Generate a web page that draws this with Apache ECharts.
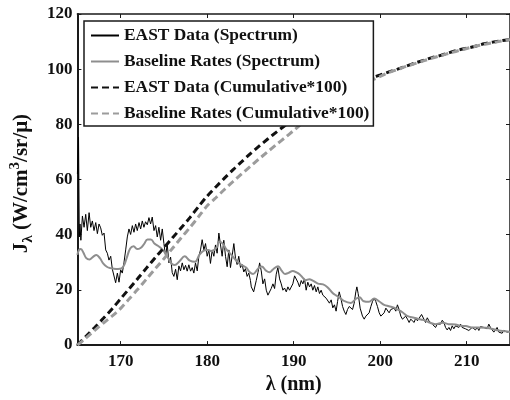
<!DOCTYPE html>
<html>
<head>
<meta charset="utf-8">
<script src="https://cdn.jsdelivr.net/npm/echarts@6/dist/echarts.min.js"></script>
<style>
  html, body { margin: 0; padding: 0; background: #fff; }
  #chart { width: 510px; height: 400px; }
</style>
</head>
<body>
<div id="chart"></div>
<script>
// Wavelength range (nm) and tick positions
const xRange = [165, 215];
const xTicks = [170, 180, 190, 200, 210];
const yRange = [0, 120];

const seriesNames = [
  'EAST Data (Spectrum)',
  'Baseline Rates (Spectrum)',
  'EAST Data (Cumulative*100)',
  'Baseline Rates (Cumulative*100)'
];

// [wavelength nm, J_lambda]
const eastSpectrum = [
  [165.00,62.0],[165.13,75.4],[165.22,39.2],[165.30,43.9],[165.40,38.0],[165.58,46.8],[165.77,42.7],[165.96,47.4],[166.15,41.5],
  [166.35,48.0],[166.54,42.7],[166.73,45.0],[166.92,41.5],[167.12,44.4],[167.31,40.4],[167.50,43.9],[167.69,42.5],
  [167.88,39.8],[168.08,40.6],[168.27,34.5],[168.46,33.3],[168.65,30.8],[168.85,32.2],[169.04,27.5],[169.23,26.9],
  [169.42,22.6],[169.62,26.1],[169.81,22.8],[170.00,27.3],[170.19,26.1],[170.38,29.8],[170.58,34.5],[170.77,39.2],
  [170.96,42.1],[171.15,40.1],[171.35,43.3],[171.54,40.9],[171.73,43.9],[171.92,41.5],[172.12,44.4],[172.31,42.1],
  [172.50,45.0],[172.69,42.7],[172.88,44.7],[173.08,43.6],[173.27,46.2],[173.46,43.9],[173.65,46.4],[173.85,41.5],
  [174.04,43.3],[174.23,39.2],[174.42,42.7],[174.62,38.0],[174.81,42.1],[175.00,36.8],[175.19,32.2],[175.38,36.6],
  [175.58,29.8],[175.77,31.9],[175.96,26.3],[176.15,24.9],[176.35,27.5],[176.54,23.7],[176.73,28.7],[176.92,26.9],
  [177.12,29.8],[177.31,27.3],[177.50,28.9],[177.69,26.8],[177.88,29.1],[178.08,26.8],[178.27,28.1],[178.46,26.1],
  [178.65,29.8],[178.85,26.9],[179.04,32.2],[179.23,34.5],[179.42,38.2],[179.62,34.5],[179.81,36.8],[180.00,32.2],
  [180.19,34.5],[180.38,29.6],[180.58,34.5],[180.77,32.2],[180.96,36.3],[181.15,33.3],[181.35,40.6],[181.54,36.3],
  [181.73,32.2],[181.92,38.0],[182.12,32.2],[182.31,28.4],[182.50,34.5],[182.69,28.1],[182.88,32.2],[183.08,36.8],
  [183.27,31.6],[183.46,29.2],[183.65,32.2],[183.85,28.1],[184.04,29.2],[184.23,26.5],[184.42,27.7],[184.62,24.9],
  [184.81,26.1],[185.00,23.4],[185.10,21.1],[185.37,19.3],[185.67,23.4],[185.87,26.3],[186.06,29.8],[186.25,26.9],
  [186.44,22.2],[186.64,24.0],[186.83,19.9],[187.02,18.1],[187.21,17.5],[187.40,20.5],[187.60,22.2],[187.79,20.5],
  [187.98,25.7],[188.17,28.1],[188.37,24.0],[188.56,22.2],[188.75,19.9],[188.94,20.7],[189.14,19.3],[189.33,21.1],
  [189.52,19.9],[189.71,19.3],[189.90,22.2],[190.10,25.1],[190.29,25.7],[190.48,22.8],[190.67,21.1],[190.87,23.4],
  [191.06,22.2],[191.25,24.0],[191.44,19.9],[191.63,22.8],[191.83,21.1],[192.02,22.2],[192.21,19.9],[192.40,21.6],
  [192.60,19.3],[192.79,21.1],[192.98,18.7],[193.17,19.9],[193.37,18.1],[193.56,18.7],[193.75,17.0],[193.94,17.5],
  [194.13,15.2],[194.33,16.4],[194.52,13.5],[194.71,14.6],[194.90,12.3],[195.07,15.8],[195.26,19.3],[195.45,17.0],
  [195.65,14.0],[195.84,12.3],[196.03,11.1],[196.22,12.9],[196.42,14.0],[196.61,13.4],[196.80,12.9],[196.99,15.2],
  [197.18,19.3],[197.30,21.1],[197.45,18.7],[197.68,13.4],[197.95,10.5],[198.15,9.4],[198.34,10.5],[198.53,9.9],
  [198.72,11.7],[198.92,14.0],[199.11,15.8],[199.30,17.0],[199.49,15.8],[199.68,14.0],[199.88,11.7],[200.07,10.5],
  [200.26,9.9],[200.45,11.7],[200.65,13.4],[200.84,12.9],[201.03,11.7],[201.22,12.9],[201.42,12.3],[201.61,13.4],
  [201.80,12.3],[201.99,14.6],[202.18,12.9],[202.38,10.5],[202.57,9.4],[202.76,8.8],[202.95,10.5],[203.15,9.4],
  [203.34,8.2],[203.53,9.4],[203.72,8.8],[203.92,8.2],[204.11,9.9],[204.30,8.8],[204.49,9.4],[204.78,11.1],
  [205.05,9.4],[205.24,8.2],[205.44,9.9],[205.63,8.8],[205.82,8.2],[206.01,7.6],[206.21,7.0],[206.40,6.4],
  [206.59,7.6],[206.78,8.2],[206.97,7.6],[207.17,9.0],[207.36,8.2],[207.55,6.4],[207.74,5.5],[207.94,6.4],
  [208.13,5.3],[208.32,7.0],[208.51,5.9],[208.71,7.0],[208.90,7.6],[209.09,6.4],[209.28,7.6],[209.47,6.4],
  [209.67,7.0],[209.86,5.9],[210.05,6.4],[210.24,5.3],[210.44,4.7],[210.63,6.4],[210.82,7.0],[211.01,5.5],
  [211.21,6.4],[211.40,5.3],[211.59,6.7],[211.78,7.3],[211.97,6.4],[212.17,6.7],[212.36,5.9],[212.55,7.6],
  [212.74,6.4],[212.94,5.9],[213.13,4.7],[213.32,5.3],[213.51,6.4],[213.71,4.7],[213.90,5.3],[214.09,4.3],
  [214.28,5.3],[214.48,5.5],[214.67,4.7],[215.00,5.0]
];

const baselineSpectrum = [
  [165.0,32.7],[165.18,34.5],[165.4,34.8],[165.7,33.5],[166.0,31.6],[166.4,31.0],[166.8,32.0],[167.2,32.7],
  [167.6,31.5],[168.0,29.5],[168.4,28.4],[168.8,27.9],[169.2,27.7],[169.7,27.6],[170.1,27.8],[170.4,29.0],
  [170.7,31.6],[171.1,35.0],[171.5,35.8],[171.9,34.8],[172.3,35.2],[172.7,36.6],[173.1,38.3],[173.5,38.3],
  [173.9,36.8],[174.3,36.0],[174.7,35.0],[175.1,33.6],[175.5,31.5],[175.9,29.5],[176.25,29.0],[176.8,30.4],
  [177.4,32.2],[178.0,30.6],[178.6,30.2],[179.1,32.7],[179.6,34.2],[180.1,34.5],[180.5,34.0],[181.1,35.4],
  [181.4,37.5],[181.8,36.8],[182.2,34.8],[182.8,32.7],[183.4,30.5],[183.9,29.2],[184.5,28.1],[184.9,26.5],
  [185.3,25.8],[185.9,27.8],[186.3,28.5],[186.8,27.0],[187.2,26.4],[187.6,27.4],[188.2,28.6],[188.6,27.0],
  [189.0,25.8],[189.4,26.2],[189.9,26.9],[190.3,26.4],[190.7,25.6],[191.1,24.2],[191.4,23.5],[191.8,23.9],
  [192.2,23.4],[192.8,22.3],[193.4,22.0],[193.9,21.0],[194.5,18.9],[194.9,18.0],[195.4,17.0],[195.8,16.0],
  [196.6,15.3],[197.2,16.8],[197.6,17.3],[198.1,15.9],[198.7,15.7],[199.3,16.9],[199.9,15.8],[200.45,14.6],
  [201.0,14.1],[201.6,13.6],[202.0,12.9],[202.6,11.8],[203.1,10.6],[203.9,9.9],[204.7,9.3],[205.2,8.9],
  [205.6,8.3],[206.4,7.6],[207.2,8.1],[207.9,7.6],[208.7,7.5],[209.3,7.0],[209.9,6.9],[210.6,6.4],
  [211.4,6.4],[212.2,6.3],[213.0,5.8],[213.7,5.3],[214.5,5.0],[215.0,4.7]
];

const eastCumulative = [
  [165,0],[166,3.2],[167,6.4],[168,9.7],[169,13.1],[170,16.8],[171,20.5],[172,24.2],[173,28.0],[174,31.7],
  [175,35.3],[176,38.9],[177,42.5],[178,46.2],[179,50.2],[180,54.0],[181,57.3],[182,60.5],[183,63.6],[184,66.5],
  [185,69.4],[186,72.1],[187,74.7],[188,77.2],[189,79.6],[190,82.0],[191,84.2],[192,86.4],[193,88.4],[194,90.4],
  [195,92.3],[196,93.8],[197,95.0],[198,96.0],[199,96.9],[200,97.9],[201,99.0],[202,100.0],[203,101.1],[204,102.2],
  [205,103.2],[206,104.2],[207,105.0],[208,106.0],[209,106.9],[210,107.6],[211,108.3],[212,109.2],[213,109.8],
  [214,110.3],[215,110.8]
];

const baselineCumulative = [
  [165,0],[166,2.6],[167,5.3],[168,8.0],[169,10.5],[170,13.3],[171,16.8],[172,20.3],[173,24.0],[174,27.7],
  [175,31.3],[176,35.1],[177,38.9],[178,42.6],[179,46.5],[180,50.5],[181,53.4],[182,56.4],[183,59.3],[184,62.1],
  [185,64.8],[186,67.5],[187,70.1],[188,72.7],[189,75.2],[190,77.8],[191,80.4],[192,82.9],[193,85.1],[194,87.3],
  [195,89.4],[196,91.3],[197,93.0],[198,94.6],[199,96.0],[200,97.4],[201,98.8],[202,99.9],[203,101.0],[204,102.0],
  [205,103.0],[206,104.0],[207,104.9],[208,105.8],[209,106.7],[210,107.5],[211,108.3],[212,109.0],[213,109.6],
  [214,110.2],[215,110.8]
];

const FONT = 'Liberation Serif';
const INK = '#1a1a1a';
const TEXT = '#111';

const chart = echarts.init(document.getElementById('chart'), null, { renderer: 'canvas' });

const tickStyle = { show: true, inside: true, length: 4, lineStyle: { color: INK, width: 1 } };
const tickFont = { fontFamily: FONT, fontWeight: 'bold', fontSize: 17, color: TEXT };

chart.setOption({
  animation: false,
  backgroundColor: '#fff',
  grid: { left: 76, right: 0, top: 14, bottom: 44, containLabel: false },
  legend: {
    orient: 'vertical',
    left: 84,
    top: 21,
    padding: [6, 4, 4, 6],
    itemWidth: 28,
    itemHeight: 16,
    itemGap: 9,
    backgroundColor: '#fff',
    borderColor: INK,
    borderWidth: 1.5,
    borderRadius: 0,
    // legend keys show only the line, no marker
    itemStyle: { color: 'rgba(0,0,0,0)', borderWidth: 0, opacity: 0 },
    textStyle: { fontFamily: FONT, fontWeight: 'bold', fontSize: 17.4, color: TEXT, lineHeight: 16 },
    data: seriesNames
  },
  xAxis: [
    {
      type: 'value', min: xRange[0], max: xRange[1],
      name: 'λ (nm)', nameLocation: 'middle', nameGap: 22,
      nameTextStyle: { fontFamily: FONT, fontWeight: 'bold', fontSize: 20, color: TEXT },
      axisLine: { show: true, lineStyle: { color: INK, width: 2 } },
      axisTick: Object.assign({}, tickStyle, { customValues: xTicks }),
      axisLabel: Object.assign({ customValues: xTicks, margin: 8 }, tickFont),
      splitLine: { show: false }
    },
    {
      type: 'value', position: 'top', min: xRange[0], max: xRange[1],
      axisLine: { show: true, onZero: false, lineStyle: { color: INK, width: 1.5 } },
      axisTick: Object.assign({}, tickStyle, { customValues: xTicks }),
      axisLabel: { show: false },
      splitLine: { show: false }
    }
  ],
  yAxis: [
    {
      type: 'value', min: yRange[0], max: yRange[1], interval: 20,
      name: '{a|J}{s|λ}{a| (W/cm}{p|3}{a|/sr/μ)}',
      nameLocation: 'middle', nameGap: 34, nameRotate: 90,
      nameTextStyle: {
        fontFamily: FONT, fontWeight: 'bold', fontSize: 20, color: TEXT,
        padding: [0, 8, 0, 0],
        rich: {
          a: { fontFamily: FONT, fontWeight: 'bold', fontSize: 21, color: TEXT, lineHeight: 28, verticalAlign: 'middle' },
          s: { fontFamily: FONT, fontWeight: 'bold', fontSize: 15, color: TEXT, lineHeight: 15, verticalAlign: 'bottom' },
          p: { fontFamily: FONT, fontWeight: 'bold', fontSize: 15, color: TEXT, lineHeight: 15, verticalAlign: 'top' }
        }
      },
      axisLine: { show: true, lineStyle: { color: INK, width: 2 } },
      axisTick: tickStyle,
      axisLabel: Object.assign({ margin: 5 }, tickFont),
      splitLine: { show: false }
    },
    {
      type: 'value', position: 'right', min: yRange[0], max: yRange[1], interval: 20,
      axisLine: { show: true, onZero: false, lineStyle: { color: INK, width: 1.5 } },
      axisTick: tickStyle,
      axisLabel: { show: false },
      splitLine: { show: false }
    }
  ],
  series: [
    {
      name: seriesNames[0], type: 'line', data: eastSpectrum,
      symbol: 'none', lineStyle: { color: '#000', width: 1 }, itemStyle: { color: '#000' }
    },
    {
      name: seriesNames[1], type: 'line', data: baselineSpectrum, smooth: 0.4,
      symbol: 'none', lineStyle: { color: '#8e8e8e', width: 2 }, itemStyle: { color: '#8e8e8e' }
    },
    {
      name: seriesNames[2], type: 'line', data: eastCumulative, smooth: 0.3,
      symbol: 'none', lineStyle: { color: '#111', width: 3, type: [7, 4] }, itemStyle: { color: '#111' }
    },
    {
      name: seriesNames[3], type: 'line', data: baselineCumulative, smooth: 0.3,
      symbol: 'none', lineStyle: { color: '#9c9c9c', width: 3, type: [7, 4] }, itemStyle: { color: '#9c9c9c' }
    }
  ]
});
</script>
</body>
</html>
